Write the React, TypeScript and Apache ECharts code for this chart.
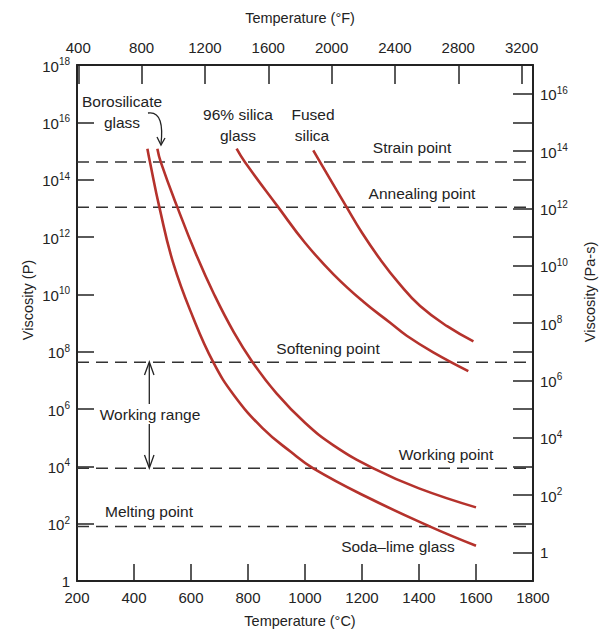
import React, { useEffect, useRef } from "react";
import * as echarts from "echarts";

const FONT = "'Liberation Sans', Arial, sans-serif";
const INK = "#232323";
const RED = "#b5322c";

// Axis ticks
const celsiusMin = 200;
const celsiusMax = 1800;
const celsiusStep = 200;
const fahrenheitTicks = [400, 800, 1200, 1600, 2000, 2400, 2800, 3200];

// Curves: temperature (°C) and viscosity (P)
const sodaLimeTemp = [447, 456, 489, 538, 608, 678, 750, 850, 950, 1029, 1217, 1439, 1600];
const sodaLimeVisc = [1.2e15, 4.1e14, 1.1e13, 1.2e11, 1.5e9, 4.3e7, 3.1e6, 2.2e5, 3.2e4, 8.5e3, 8.5e2, 79, 17];

const borosilicateTemp = [482, 494, 552, 620, 680, 750, 816, 900, 1000, 1100, 1240, 1400, 1600];
const borosilicateVisc = [1.2e15, 4.1e14, 1.1e13, 2.2e11, 1.05e10, 4.8e8, 4.3e7, 3.5e6, 3.3e5, 5.4e4, 8.5e3, 1.7e3, 3.7e2];

const silica96Temp = [760, 789, 906, 1000, 1100, 1205, 1300, 1357, 1450, 1573];
const silica96Visc = [1.2e15, 4.1e14, 1.1e13, 6.3e11, 5e10, 5.5e9, 1e9, 3.6e8, 9.5e7, 2.1e7];

const fusedSilicaTemp = [1029, 1053, 1146, 1200, 1263, 1330, 1404, 1500, 1591];
const fusedSilicaVisc = [1.05e15, 4.1e14, 1.1e13, 1.4e12, 1.7e11, 2.4e10, 3.9e9, 7.6e8, 2.3e8];

// Reference viscosity levels (P)
const referenceNames = ["Strain point", "Annealing point", "Softening point", "Working point", "Melting point"];
const referenceVisc = [4.1e14, 1.1e13, 4.3e7, 8.5e3, 80];

const toPairs = (xs: number[], ys: number[]) => xs.map((x, i) => [x, ys[i]]);
const cToF = (c: number) => c * 1.8 + 32;

const powLabel = (v: number) => {
  const e = Math.round(Math.log10(v));
  if (e < 0 || e % 2 !== 0) return "";
  if (e === 0) return "1";
  return `{b|10}{s|${e}}`;
};

const richStyle = {
  b: { fontSize: 15, fontFamily: FONT, color: INK, lineHeight: 17, verticalAlign: "bottom" },
  s: { fontSize: 10, fontFamily: FONT, color: INK, lineHeight: 11, verticalAlign: "top" },
};

const txt = (text: string, x: number, y: number, size = 15.5, rotation = 0) => ({
  type: "text",
  x,
  y,
  rotation,
  silent: true,
  style: {
    text,
    fill: INK,
    font: `${size}px ${FONT}`,
    align: "center",
    verticalAlign: "middle",
  },
});

const strokeStyle = { stroke: INK, lineWidth: 1.3, fill: "none" };

export default function App() {
  const ref = useRef<HTMLDivElement>(null);

  useEffect(() => {
    if (!ref.current) return;
    const chart = echarts.init(ref.current, undefined, { renderer: "svg" });

    const curve = (name: string, xs: number[], ys: number[]) => ({
      name,
      type: "line",
      data: toPairs(xs, ys),
      xAxisIndex: 0,
      yAxisIndex: 0,
      symbol: "none",
      smooth: 0.45,
      lineStyle: { color: RED, width: 2.6 },
      z: 5,
      silent: true,
    });

    const refLines = referenceNames.map((name, i) => ({
      name,
      type: "line",
      data: [
        [celsiusMin, referenceVisc[i]],
        [celsiusMax, referenceVisc[i]],
      ],
      xAxisIndex: 0,
      yAxisIndex: 0,
      symbol: "none",
      lineStyle: { color: "#333", width: 1.5, type: [12, 7] },
      z: 3,
      silent: true,
    }));

    const axisLine = { show: true, lineStyle: { color: INK, width: 2 } };
    const plain = (v: number) => String(Math.round(v));

    chart.setOption({
      animation: false,
      backgroundColor: "#fff",
      grid: {
        left: 77,
        right: 69,
        top: 65,
        bottom: 50,
        containLabel: false,
        outerBoundsMode: "none",
      },
      xAxis: [
        {
          type: "value",
          position: "bottom",
          min: celsiusMin,
          max: celsiusMax,
          interval: celsiusStep,
          axisLine,
          axisTick: { show: true, inside: true, length: 17, lineStyle: { color: INK, width: 1.5 } },
          axisLabel: { fontSize: 15, fontFamily: FONT, color: INK, margin: 9, formatter: plain },
          splitLine: { show: false },
        },
        {
          type: "value",
          position: "top",
          min: cToF(celsiusMin),
          max: cToF(celsiusMax),
          axisLine,
          axisTick: {
            show: true,
            inside: true,
            length: 19,
            customValues: fahrenheitTicks,
            lineStyle: { color: INK, width: 1.5 },
          },
          axisLabel: {
            fontSize: 15,
            fontFamily: FONT,
            color: INK,
            margin: 10,
            customValues: fahrenheitTicks,
            formatter: plain,
          },
          splitLine: { show: false },
        },
      ],
      yAxis: [
        {
          type: "log",
          logBase: 10,
          position: "left",
          min: 1,
          max: 1e18,
          interval: 2,
          axisLine,
          axisTick: { show: true, inside: true, length: 17, lineStyle: { color: INK, width: 1.5 } },
          axisLabel: {
            margin: 7,
            fontSize: 15,
            fontFamily: FONT,
            color: INK,
            formatter: powLabel,
            rich: richStyle,
          },
          splitLine: { show: false },
        },
        {
          type: "log",
          logBase: 10,
          position: "right",
          min: 0.1,
          max: 1e17,
          interval: 1,
          axisLine,
          axisTick: { show: true, inside: true, length: 20, lineStyle: { color: INK, width: 1.5 } },
          axisLabel: {
            margin: 7,
            fontSize: 15,
            fontFamily: FONT,
            color: INK,
            formatter: powLabel,
            rich: richStyle,
          },
          splitLine: { show: false },
        },
      ],
      series: [
        ...refLines,
        curve("Soda-lime glass", sodaLimeTemp, sodaLimeVisc),
        curve("Borosilicate glass", borosilicateTemp, borosilicateVisc),
        curve("96% silica glass", silica96Temp, silica96Visc),
        curve("Fused silica", fusedSilicaTemp, fusedSilicaVisc),
      ],
      graphic: [
        txt("Temperature (°F)", 300, 18, 14.5),
        txt("Temperature (°C)", 300, 621, 14.5),
        txt("Viscosity (P)", 28, 300, 14.5, Math.PI / 2),
        txt("Viscosity (Pa-s)", 590, 292, 14.5, Math.PI / 2),
        txt("Borosilicate", 122, 101),
        txt("glass", 122, 122),
        txt("96% silica", 238, 114),
        txt("glass", 238, 135),
        txt("Fused", 313, 114),
        txt("silica", 312, 135),
        txt("Strain point", 412, 147),
        txt("Annealing point", 422, 193),
        txt("Softening point", 328, 348),
        txt("Working point", 446, 454),
        txt("Soda\u2013lime glass", 398, 546),
        txt("Melting point", 149, 511),
        txt("Working range", 150, 414),
        {
          type: "bezierCurve",
          silent: true,
          shape: { x1: 148, y1: 113, cpx1: 161, cpy1: 111, cpx2: 163, cpy2: 126, x2: 161, y2: 144 },
          style: strokeStyle,
        },
        {
          type: "polyline",
          silent: true,
          shape: { points: [[157, 137], [161, 145], [165, 138]] },
          style: strokeStyle,
        },
        {
          type: "line",
          silent: true,
          shape: { x1: 149.3, y1: 363, x2: 149.3, y2: 404 },
          style: strokeStyle,
        },
        {
          type: "line",
          silent: true,
          shape: { x1: 149.3, y1: 424, x2: 149.3, y2: 467 },
          style: strokeStyle,
        },
        {
          type: "polyline",
          silent: true,
          shape: { points: [[144.5, 375], [149.3, 362], [154, 375]] },
          style: strokeStyle,
        },
        {
          type: "polyline",
          silent: true,
          shape: { points: [[144.5, 455], [149.3, 468], [154, 455]] },
          style: strokeStyle,
        },
      ],
    });

    return () => chart.dispose();
  }, []);

  return (
    <div
      ref={ref}
      style={{ position: "absolute", left: 0, top: 0, width: 602, height: 631, background: "#fff" }}
    />
  );
}
